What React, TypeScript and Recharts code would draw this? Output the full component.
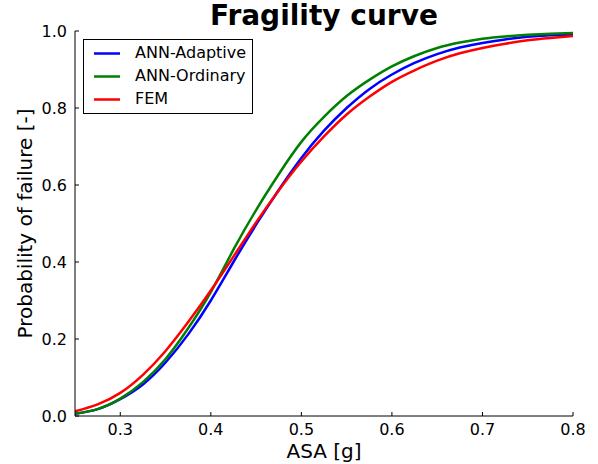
import { LineChart, Line, XAxis, YAxis, Legend, Label } from "recharts";

const asa = [
  0.25, 0.275, 0.3, 0.325, 0.35, 0.375, 0.4, 0.425, 0.45, 0.475, 0.5, 0.525,
  0.55, 0.575, 0.6, 0.625, 0.65, 0.675, 0.7, 0.725, 0.75, 0.775, 0.8,
];
const annAdaptive = [
  0.006, 0.018, 0.044, 0.082, 0.139, 0.212, 0.3, 0.4, 0.497, 0.587, 0.67, 0.741,
  0.8, 0.849, 0.887, 0.917, 0.94, 0.957, 0.969, 0.978, 0.985, 0.989, 0.991,
];
const annOrdinary = [
  0.006, 0.018, 0.045, 0.088, 0.148, 0.228, 0.322, 0.432, 0.535, 0.628, 0.712, 0.777,
  0.831, 0.873, 0.908, 0.935, 0.956, 0.97, 0.98, 0.986, 0.99, 0.993, 0.995,
];
const fem = [
  0.012, 0.03, 0.06, 0.107, 0.169, 0.244, 0.326, 0.414, 0.503, 0.586, 0.661, 0.726,
  0.783, 0.829, 0.868, 0.898, 0.923, 0.942, 0.956, 0.967, 0.976, 0.982, 0.987,
];
const xTicks = [0.3, 0.4, 0.5, 0.6, 0.7, 0.8];
const yTicks = [0, 0.2, 0.4, 0.6, 0.8, 1.0];

const data = asa.map((x, i) => ({
  x,
  adaptive: annAdaptive[i],
  ordinary: annOrdinary[i],
  fem: fem[i],
}));

const FONT = "'DejaVu Sans', sans-serif";

function LegendBox({ payload }: any) {
  return (
    <div
      style={{
        border: "1px solid #000",
        background: "#fff",
        width: 168,
        height: 73,
        fontFamily: FONT,
        fontSize: 16,
        color: "#000",
      }}
    >
      {(payload ?? []).map((p: any, i: number) => (
        <div key={i} style={{ position: "relative", height: 23.4, top: 1.5 }}>
          <svg width={40} height={23} style={{ position: "absolute", left: 8, top: 0 }}>
            <line x1={2} x2={28} y1={11.5} y2={11.5} stroke={p.color} strokeWidth={2.5} />
          </svg>
          <span style={{ position: "absolute", left: 51, top: 2, lineHeight: "18px" }}>{p.value}</span>
        </div>
      ))}
    </div>
  );
}

export default function App() {
  return (
    <div style={{ position: "absolute", left: 0, top: 0, width: 598, height: 464, background: "#fff" }}>
      <svg width={598} height={40} style={{ position: "absolute", left: 0, top: 0 }}>
        <text x={324} y={25} textAnchor="middle" fontSize={28} fontWeight="bold" fill="#000" fontFamily={FONT}>
          Fragility curve
        </text>
      </svg>
      <LineChart
        width={598}
        height={464}
        data={data}
        margin={{ top: 31, right: 25, bottom: 18, left: 30 }}
        style={{ fontFamily: FONT, position: "absolute", left: 0, top: 0 }}
      >
        <XAxis
          dataKey="x"
          type="number"
          domain={[0.25, 0.8]}
          ticks={xTicks}
          allowDataOverflow
          height={30}
          tickSize={-4}
          tickMargin={12}
          stroke="#000"
          tick={{ fill: "#000", fontSize: 16 }}
          tickFormatter={(v: number) => v.toFixed(1)}
        >
          <Label
            content={({ viewBox }: any) => (
              <text
                x={viewBox.x + viewBox.width / 2}
                y={viewBox.y + 42}
                textAnchor="middle"
                fontSize={20}
                fill="#000"
                fontFamily={FONT}
              >
                ASA [g]
              </text>
            )}
          />
        </XAxis>
        <XAxis
          xAxisId="top"
          dataKey="x"
          type="number"
          orientation="top"
          domain={[0.25, 0.8]}
          ticks={xTicks}
          allowDataOverflow
          height={0}
          tickSize={-4}
          stroke="#000"
          tickFormatter={() => ""}
        />
        <YAxis
          type="number"
          domain={[0, 1]}
          ticks={yTicks}
          allowDataOverflow
          width={45}
          tickSize={-4}
          tickMargin={12}
          stroke="#000"
          tick={{ fill: "#000", fontSize: 16 }}
          tickFormatter={(v: number) => v.toFixed(1)}
        >
          <Label
            content={({ viewBox }: any) => {
              const cx = viewBox.x + 2;
              const cy = viewBox.y + viewBox.height / 2;
              return (
                <text
                  x={cx}
                  y={cy}
                  transform={`rotate(-90 ${cx} ${cy})`}
                  textAnchor="middle"
                  fontSize={20}
                  fill="#000"
                  fontFamily={FONT}
                >
                  Probability of failure [-]
                </text>
              );
            }}
          />
        </YAxis>
        <YAxis
          yAxisId="right"
          type="number"
          orientation="right"
          domain={[0, 1]}
          ticks={yTicks}
          allowDataOverflow
          width={0}
          tickSize={-4}
          stroke="#000"
          tickFormatter={() => ""}
        />
        <Legend
          layout="vertical"
          align="center"
          verticalAlign="middle"
          content={<LegendBox />}
          wrapperStyle={{ position: "absolute", left: 83, top: 39, width: 170, height: 75 }}
        />
        <Line
          type="natural"
          dataKey="adaptive"
          name="ANN-Adaptive"
          stroke="#0000ff"
          strokeWidth={2.5}
          dot={false}
          isAnimationActive={false}
        />
        <Line
          type="natural"
          dataKey="ordinary"
          name="ANN-Ordinary"
          stroke="#008000"
          strokeWidth={2.5}
          dot={false}
          isAnimationActive={false}
        />
        <Line
          type="natural"
          dataKey="fem"
          name="FEM"
          stroke="#ff0000"
          strokeWidth={2.5}
          dot={false}
          isAnimationActive={false}
        />
      </LineChart>
    </div>
  );
}
